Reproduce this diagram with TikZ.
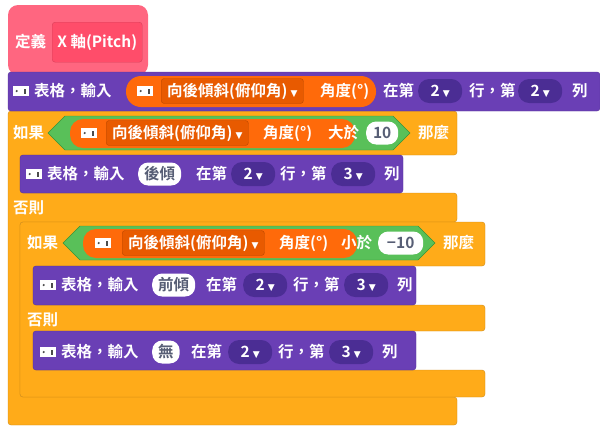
\documentclass[tikz,border=0pt]{standalone}
\usepackage{fontspec}
\setmainfont{Noto Sans CJK TC}[BoldFont=* Bold]
\newfontfamily\sym{DejaVu Sans}
\usetikzlibrary{shapes.geometric}
\definecolor{ctrl}{HTML}{FFAB19}
\definecolor{ctrlE}{HTML}{CF8B17}
\definecolor{pur}{HTML}{6A3FB5}
\definecolor{purE}{HTML}{55309A}
\definecolor{purD}{HTML}{4B2D94}
\definecolor{org}{HTML}{FF6A0A}
\definecolor{orgD}{HTML}{E85A00}
\definecolor{grn}{HTML}{59C059}
\definecolor{grnE}{HTML}{389438}
\definecolor{pink}{HTML}{FF6680}
\definecolor{pinkD}{HTML}{FF4D6A}
\definecolor{gtxt}{HTML}{575E75}
\newcommand{\dd}{{\sym\fontsize{9}{9}\selectfont\ ▼}}
\newcommand{\ft}{\bfseries\fontsize{15.5}{16}\selectfont}
\tikzset{
 t/.style={text=white,font=\ft,inner sep=0pt,anchor=west},
 wov/.style={fill=white,rounded corners=10pt,text=gtxt,font=\ft,minimum height=23pt,inner xsep=6pt,inner ysep=0pt,anchor=west},
 pov/.style={fill=purD,rounded corners=11pt,text=white,font=\ft,minimum height=24pt,minimum width=44pt,inner sep=0pt,anchor=west},
 ddb/.style={fill=orgD,draw=orgD!80!black,rounded corners=3pt,text=white,font=\ft,minimum height=25pt,inner xsep=6pt,anchor=west},
 ico/.style={draw=white,fill=white,minimum width=15pt,minimum height=9pt,inner sep=0pt,anchor=west,path picture={\fill[black!70] ([xshift=3.5pt]path picture bounding box.west) circle (1.2pt);\fill[black!70]([xshift=-4pt,yshift=-2.5pt]path picture bounding box.east) rectangle ([xshift=-2.5pt,yshift=2.5pt]path picture bounding box.east);}},
}
\begin{document}
\begin{tikzpicture}[x=1pt,y=-1pt]
\useasboundingbox (0,0) rectangle (600,440);
% hat
\fill[pink,rounded corners=10pt] (8,5) rectangle (148,75);
\node[fill=pinkD,draw=pinkD!85!black,rounded corners=3pt,minimum width=90pt,minimum height=40pt,anchor=north west,text=white,font=\ft,inner sep=0pt] (def) at (52,22) {X 軸(Pitch)};
\node[t] (deft) at (15,42) {定義};
% outer if
\begin{scope}[fill=ctrl,draw=ctrlE]
\filldraw[rounded corners=3pt] (8,111) -- (457,111) -- (457,155) -- (20,155) -- (20,193) -- (457,193) -- (457,222) -- (20,222) -- (20,397) -- (457,397) -- (457,425) -- (8,425) -- cycle;
\filldraw[rounded corners=3pt] (20,222) -- (485,222) -- (485,266) -- (33,266) -- (33,305) -- (485,305) -- (485,331) -- (33,331) -- (33,370) -- (485,370) -- (485,397) -- (20,397) -- cycle;
\end{scope}
% row1
\filldraw[fill=pur,draw=purE,rounded corners=3pt] (8,72) rectangle (600,111);
\node[ico] (i1) at (13,91) {};
\node[t] (r1) at (34,91) {表格，輸入};
\fill[org] (126,76) [rounded corners=15pt] rectangle (376,107);
\node[ico] (i2) at (137,91) {};
\node[ddb] (d1) at (161,91) {向後傾斜(俯仰角)\dd};
\node[t] (a1) at (320,91) {角度(°)};
\node[t] (z1) at (383,91) {在第};
\node[pov] (p1) at (418,91) {2\dd};
\node[t] (z2) at (469,91) {行，第};
\node[pov] (p2) at (518,91) {2\dd};
\node[t] (z3) at (572,91) {列};
% if 1
\node[t] (if1) at (13,133) {如果};
\filldraw[fill=grn,draw=grnE] (48,133) -- (65,116) -- (393,116) -- (410,133) -- (393,150) -- (65,150) -- cycle;
\fill[org,rounded corners=13pt] (70,119) rectangle (355,148);
\node[ico] (i3) at (81,133) {};
\node[ddb] (d2) at (106,133) {向後傾斜(俯仰角)\dd};
\node[t] (a2) at (263,133) {角度(°)};
\node[t] (b1) at (328,133) {大於};
\node[wov,minimum width=32pt] (v1) at (366,133) {10};
\node[t] (n1) at (418,133) {那麼};
% row 2
\filldraw[fill=pur,draw=purE,rounded corners=3pt] (20,155) rectangle (403,193);
\node[ico] (i4) at (26,174) {};
\node[t] (r2) at (47,174) {表格，輸入};
\node[wov] (v2) at (138,174) {後傾};
\node[t] (z4) at (196,174) {在第};
\node[pov] (p3) at (231,174) {2\dd};
\node[t] (z5) at (280,174) {行，第};
\node[pov] (p4) at (331,174) {3\dd};
\node[t] (z6) at (384,174) {列};
\node[t] (e1) at (13,208) {否則};
% if 2
\node[t] (if2) at (27,243) {如果};
\filldraw[fill=grn,draw=grnE] (63,243) -- (80,226) -- (418,226) -- (435,243) -- (418,260) -- (80,260) -- cycle;
\fill[org,rounded corners=13pt] (83,229) rectangle (357,258);
\node[ico] (i5) at (95,243) {};
\node[ddb] (d3) at (122,243) {向後傾斜(俯仰角)\dd};
\node[t] (a3) at (279,243) {角度(°)};
\node[t] (b2) at (341,243) {小於};
\node[wov,minimum width=45pt] (v3) at (378,243) {−10};
\node[t] (n2) at (443,243) {那麼};
% row 3
\filldraw[fill=pur,draw=purE,rounded corners=3pt] (33,266) rectangle (416,305);
\node[ico] (i6) at (40,285) {};
\node[t] (r3) at (61,285) {表格，輸入};
\node[wov] (v4) at (152,285) {前傾};
\node[t] (z7) at (206,285) {在第};
\node[pov] (p5) at (243,285) {2\dd};
\node[t] (z8) at (293,285) {行，第};
\node[pov] (p6) at (344,285) {3\dd};
\node[t] (z9) at (397,285) {列};
\node[t] (e2) at (27,320) {否則};
% row 4
\filldraw[fill=pur,draw=purE,rounded corners=3pt] (33,331) rectangle (416,370);
\node[ico] (i7) at (40,352) {};
\node[t] (r4) at (61,352) {表格，輸入};
\node[wov] (v5) at (152,352) {無};
\node[t] (z10) at (191,352) {在第};
\node[pov] (p7) at (228,352) {2\dd};
\node[t] (z11) at (278,352) {行，第};
\node[pov] (p8) at (329,352) {3\dd};
\node[t] (z12) at (382,352) {列};
\end{tikzpicture}
\end{document}
